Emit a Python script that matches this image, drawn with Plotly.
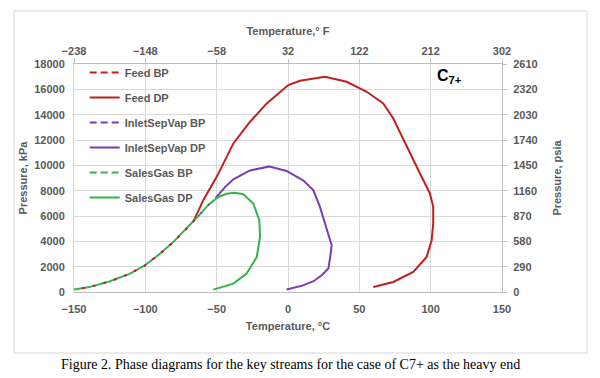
import numpy as np
import plotly.graph_objects as go

# ---- data (Temperature °C, Pressure kPa) ----
feed_bp_T = [-150, -138.8, -124.8, -110.7, -100.2, -89.7, -80.4, -72.2, -66.4]
feed_bp_P = [200, 400, 846, 1450, 2110, 3030, 3950, 4880, 5530]

feed_dp_T = [-66.4, -59.4, -50, -38.3, -26.6, -19.6, -14.9, 0.2, 8.4, 25.9, 41.1, 55.2,
             66.8, 73.8, 83.2, 92.5, 99.5, 101.8, 101.8, 100.7, 97.2, 87.8, 73.8, 59.8]
feed_dp_P = [5530, 7250, 9090, 11730, 13440, 14360, 14890, 16340, 16680, 17000, 16600, 15810,
             14890, 13700, 11460, 9360, 7780, 6720, 5410, 4090, 2770, 1580, 790, 395]

inlet_bp_T = [-150, -138.8, -124.8, -110.7, -100.2, -89.7, -80.4, -72.2, -66.4, -62, -56.5, -50.5]
inlet_bp_P = [200, 400, 846, 1450, 2110, 3030, 3950, 4880, 5530, 6100, 6800, 7450]

inlet_dp_T = [-50.5, -44, -38.3, -26.6, -13, -1, 10.8, 17.7, 22.4, 25.5, 28.3, 30.6,
              29.5, 28.3, 23.6, 18, 10, -1]
inlet_dp_P = [7450, 8300, 8900, 9600, 9900, 9560, 8800, 8040, 6720, 5500, 4500, 3690,
              2700, 1850, 1320, 850, 500, 190]

sales_bp_T = [-150, -138.8, -124.8, -110.7, -100.2, -89.7, -80.4, -72.2, -66.4, -62, -56.5, -51.2]
sales_bp_P = [200, 400, 846, 1450, 2110, 3030, 3950, 4880, 5530, 6100, 6800, 7300]

sales_dp_T = [-51.2, -47.7, -43, -37.5, -31.3, -24.3, -20.1, -19.6, -21.9, -29, -38.3, -52.4]
sales_dp_P = [7300, 7560, 7760, 7830, 7720, 6990, 5670, 4350, 2770, 1450, 660, 190]

x_ticks_C = [-150, -100, -50, 0, 50, 100, 150]
x_ticks_F = [-238, -148, -58, 32, 122, 212, 302]
y_ticks_kPa = list(range(0, 18001, 2000))
y_ticks_psia = list(range(0, 2611, 290))

RED = "#C0201F"
PURPLE = "#7A3DB0"
GREEN = "#34B44A"
GRAY = "#595959"
FONT = "Liberation Sans"
LEGEND_DASH = "7px,4px"

fig = go.Figure()

def curve(T, P, color, dash):
    fig.add_trace(go.Scatter(
        x=T, y=P, mode="lines", showlegend=False,
        line=dict(color=color, width=2, dash=dash, shape="linear"), hoverinfo="skip"))

def legend_entry(name, color, dash, rank, group):
    # empty proxy trace: only provides the legend swatch
    fig.add_trace(go.Scatter(
        x=[None], y=[None], mode="lines", name=name,
        line=dict(color=color, width=2, dash=dash),
        legendrank=rank, legendgroup=group, hoverinfo="skip"))

# drawing order chosen so overlapping dashed curves show like the reference
curve(inlet_bp_T, inlet_bp_P, PURPLE, "0px,8px,3px,0px")
curve(feed_bp_T, feed_bp_P, RED, "0px,8px,3px,0px")
curve(feed_dp_T, feed_dp_P, RED, "solid")
curve(inlet_dp_T, inlet_dp_P, PURPLE, "solid")
curve(sales_bp_T, sales_bp_P, GREEN, "8px,3px")
curve(sales_dp_T, sales_dp_P, GREEN, "solid")

legend_entry("Feed BP", RED, LEGEND_DASH, 1, "g1")
legend_entry("Feed DP", RED, "solid", 2, "g2")
legend_entry("InletSepVap BP", PURPLE, LEGEND_DASH, 3, "g3")
legend_entry("InletSepVap DP", PURPLE, "solid", 4, "g4")
legend_entry("SalesGas BP", GREEN, LEGEND_DASH, 5, "g5")
legend_entry("SalesGas DP", GREEN, "solid", 6, "g6")

# invisible trace to drive the secondary (°F / psia) axes
fig.add_trace(go.Scatter(
    x=np.array(feed_dp_T) * 1.8 + 32, y=np.array(feed_dp_P) * 0.145038,
    xaxis="x2", yaxis="y2", mode="lines", opacity=0, showlegend=False, hoverinfo="skip"))

tickfont = dict(family=FONT, size=11, color=GRAY, weight="bold")
titlefont = dict(family=FONT, size=11, color=GRAY, weight="bold")

fig.update_layout(
    width=592, height=370,
    margin=dict(l=66, r=98, t=56, b=86),
    paper_bgcolor="white", plot_bgcolor="white",
    font=dict(family=FONT, size=11, color=GRAY),
    xaxis=dict(range=[-150, 150], tickvals=x_ticks_C, showgrid=True, gridcolor="#D9D9D9",
               zeroline=False, showline=True, linecolor="#BFBFBF", ticks="",
               ticklabelstandoff=7, automargin=False,
               tickfont=tickfont, title=dict(text="Temperature, °C", font=titlefont, standoff=8)),
    yaxis=dict(range=[0, 18000], tickvals=y_ticks_kPa, tickformat="d", showgrid=True,
               gridcolor="#D9D9D9", zeroline=False, showline=True, linecolor="#D9D9D9", ticks="",
               ticklabelstandoff=6, automargin=False,
               tickfont=tickfont, title=dict(text="Pressure, kPa", font=titlefont, standoff=4)),
    xaxis2=dict(overlaying="x", side="top", range=[-238, 302], tickvals=x_ticks_F,
                showgrid=False, zeroline=False, showline=True, linecolor="#BFBFBF",
                ticks="outside", ticklen=4, tickcolor="#BFBFBF", tickfont=tickfont, automargin=False,
                title=dict(text="Temperature,° F", font=titlefont, standoff=6)),
    yaxis2=dict(overlaying="y", side="right", range=[0, 2610], tickvals=y_ticks_psia,
                tickformat="d", showgrid=False, zeroline=False, showline=True, linecolor="#BFBFBF",
                ticks="outside", ticklen=4, tickcolor="#BFBFBF", tickfont=tickfont,
                ticklabelstandoff=4, automargin=False,
                title=dict(text="Pressure, psia", font=titlefont, standoff=16)),
    legend=dict(x=0.025, y=1.026, xanchor="left", yanchor="top", bgcolor="rgba(0,0,0,0)",
                font=dict(family=FONT, size=11, color=GRAY, weight="bold"),
                traceorder="grouped", tracegroupgap=6),
    showlegend=True,
)

fig.add_annotation(x=0.843, y=0.945, xref="paper", yref="paper", xanchor="left", yanchor="middle",
                   text="<b>C<sub>7+</sub></b>", showarrow=False,
                   font=dict(family=FONT, size=16, color="black"))

fig.add_annotation(x=0.505, y=-0.32, xref="paper", yref="paper", xanchor="center", yanchor="middle",
                   text="Figure 2. Phase diagrams for the key streams for the case of C7+ as the heavy end",
                   showarrow=False, font=dict(family="Liberation Serif", size=14, color="black"))

fig.add_shape(type="rect", xref="paper", yref="paper", x0=-0.1402, x1=1.1986, y0=-0.2675, y1=1.2325,
              line=dict(color="#D9D9D9", width=1), layer="below")

fig.write_html("out.html")
